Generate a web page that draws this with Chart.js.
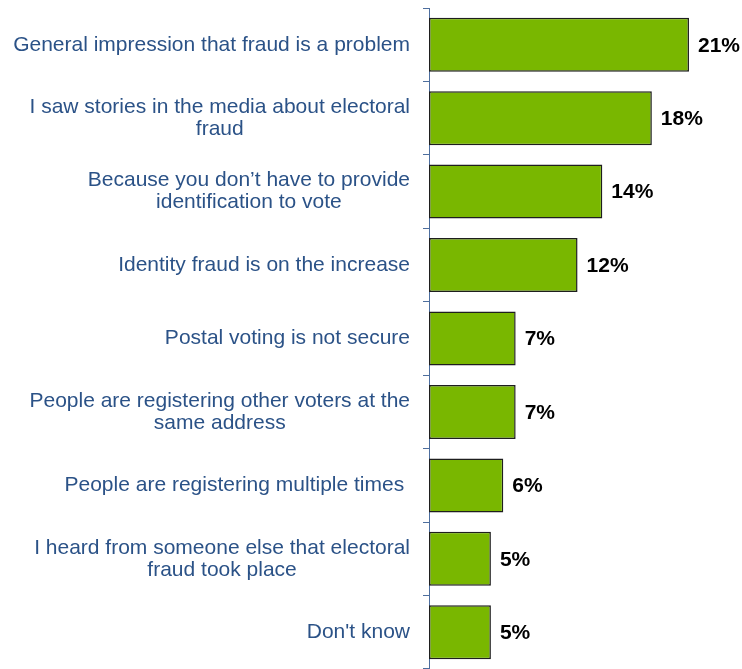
<!DOCTYPE html>
<html>
<head>
<meta charset="utf-8">
<script src="https://cdn.jsdelivr.net/npm/chart.js@4/dist/chart.umd.min.js"></script>
<style>
  html, body { margin: 0; padding: 0; background: #fff; }
  #wrap { width: 742px; height: 669px; position: relative; }
</style>
</head>
<body>
<div id="wrap"><canvas id="fraudChart"></canvas></div>
<script>
// reasons given, one entry per bar (arrays = wrapped lines)
const reasons = [
  ['General impression that fraud is a problem'],
  ['I saw stories in the media about electoral', 'fraud'],
  ['Because you don\u2019t have to provide', 'identification to vote'],
  ['Identity fraud is on the increase'],
  ['Postal voting is not secure'],
  ['People are registering other voters at the', 'same address'],
  ['People are registering multiple times '],
  ['I heard from someone else that electoral', 'fraud took place'],
  ['Don\'t know']
];
const percents = [21, 18, 14, 12, 7, 7, 6, 5, 5];

const axisBlue = '#4d6e9e';
const labelBlue = '#2b5287';

// category text, each label centred on its own widest line, right edge fixed
const reasonLabels = {
  id: 'reasonLabels',
  afterDraw(chart) {
    const ctx = chart.ctx;
    const yScale = chart.scales.y;
    const rightEdge = 410;
    const lineH = 22;
    ctx.save();
    ctx.font = '21px "Liberation Sans", Arial, sans-serif';
    ctx.fillStyle = labelBlue;
    ctx.textAlign = 'center';
    ctx.textBaseline = 'middle';
    reasons.forEach((lines, i) => {
      const yc = yScale.getPixelForValue(i);
      const w = Math.max(...lines.map(l => ctx.measureText(l).width));
      const cx = rightEdge - w / 2;
      const y0 = yc - (lines.length - 1) * lineH / 2;
      lines.forEach((l, j) => ctx.fillText(l, cx, y0 + j * lineH));
    });
    ctx.restore();
  }
};

// percentage next to each bar
const valueLabels = {
  id: 'valueLabels',
  afterDatasetsDraw(chart) {
    const ctx = chart.ctx;
    const meta = chart.getDatasetMeta(0);
    ctx.save();
    ctx.font = 'bold 21px "Liberation Sans", Arial, sans-serif';
    ctx.fillStyle = '#000';
    ctx.textAlign = 'left';
    ctx.textBaseline = 'middle';
    meta.data.forEach((bar, i) => {
      ctx.fillText(percents[i] + '%', bar.x + 9, bar.y + 1);
    });
    ctx.restore();
  }
};

const ctx = document.getElementById('fraudChart');
new Chart(ctx, {
  type: 'bar',
  data: {
    labels: reasons,
    datasets: [{
      data: percents,
      backgroundColor: '#79b700',
      borderColor: '#1e1e1e',
      borderWidth: 1.5,
      borderSkipped: false,
      barPercentage: 0.735,
      categoryPercentage: 1
    }]
  },
  options: {
    indexAxis: 'y',
    responsive: true,
    maintainAspectRatio: false,
    animation: false,
    layout: { padding: { top: 8, right: 3.5, bottom: 0, left: 0 } },
    plugins: {
      legend: { display: false },
      tooltip: { enabled: false }
    },
    scales: {
      x: {
        display: false,
        min: 0,
        max: 25
      },
      y: {
        afterFit(scale) { scale.width = 429; },
        grid: {
          drawOnChartArea: false,
          drawTicks: true,
          tickLength: 6,
          color: axisBlue,
          lineWidth: 1,
          offset: true
        },
        border: { display: true, color: axisBlue, width: 1 },
        ticks: { display: false }
      }
    }
  },
  plugins: [reasonLabels, valueLabels]
});
</script>
</body>
</html>
